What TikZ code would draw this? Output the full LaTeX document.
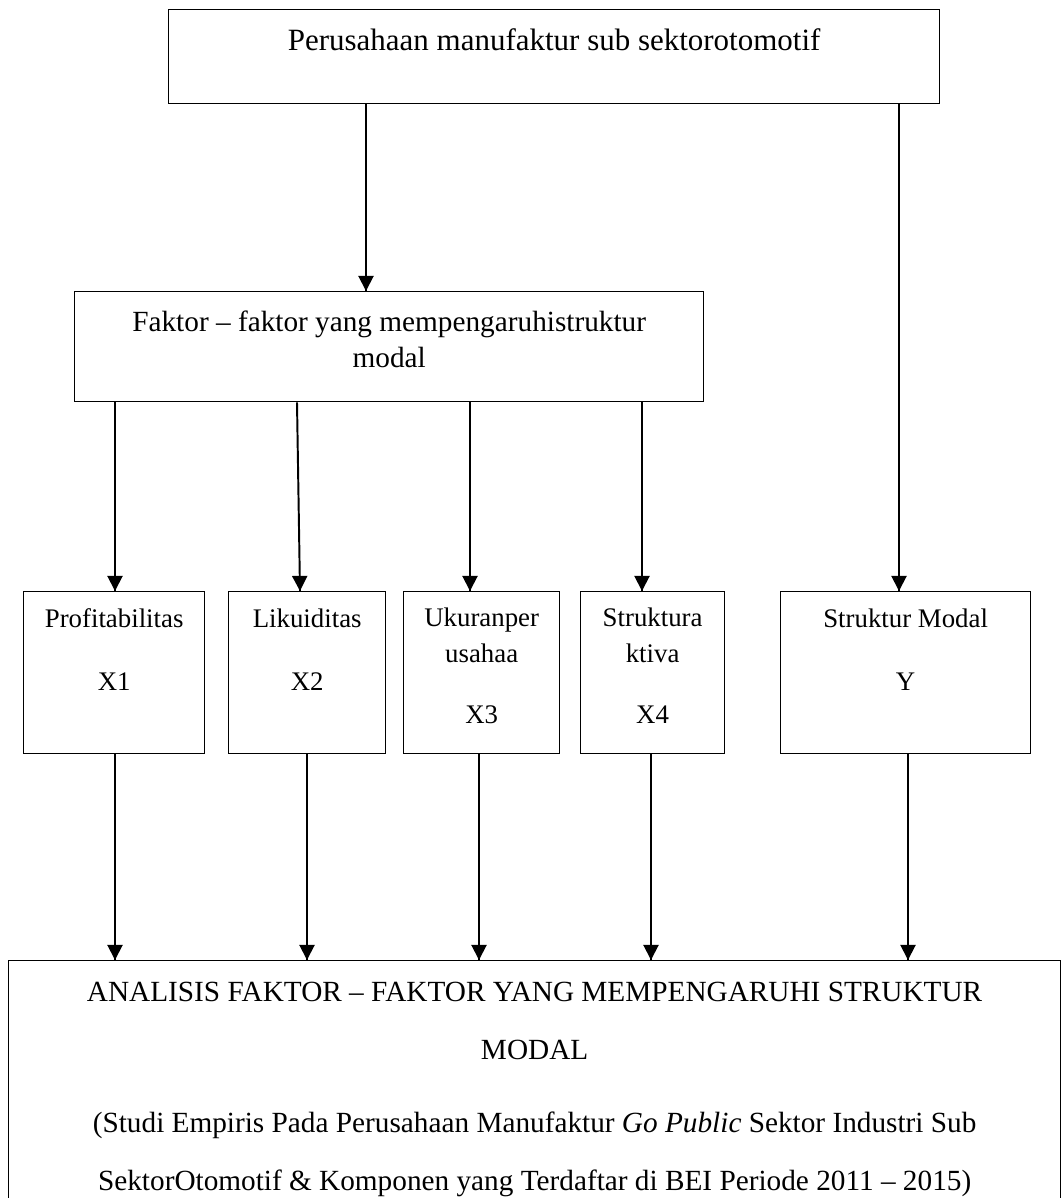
\documentclass[tikz,border=0pt]{standalone}
\usepackage{fontspec}
\setmainfont{Liberation Serif}
\usepackage{tikz}
\usetikzlibrary{calc}
\usetikzlibrary{decorations.markings}
\usetikzlibrary{arrows.meta}
\tikzstyle{bigbox}=[rectangle, draw=black, line width=0.55pt, inner sep=0pt, align=center, anchor=north west, font=\fontsize{12}{15}\selectfont]
\tikzstyle{smallbox}=[rectangle, draw=black, line width=0.55pt, inner sep=0pt, align=center, anchor=north west, font=\fontsize{11}{14.8}\selectfont]
\tikzstyle{arrow} = [line width=0.8pt, decoration={markings,mark=at position 1 with
	{\arrow{Triangle[length=6.2pt,width=6.2pt]}}},postaction={decorate}]

\begin{document}
\begin{tikzpicture}[x=0.41pt, y=-0.41pt]
	\useasboundingbox (0,0) rectangle (1062,1198);
	\clip (0,0) rectangle (1062,1198);
	
	\node(Perusahaan)[bigbox, font=\fontsize{12.7}{15}\selectfont, minimum width=316.1pt, text height=16.8pt, text depth=21.7pt] at (168,9) {Perusahaan manufaktur sub sektorotomotif};
	
	\node(Faktor)[bigbox, minimum width=257.9pt, text height=31.2pt, text depth=13.9pt] at (74,291) {Faktor – faktor yang mempengaruhistruktur\\modal};
	
	
	\node(Profit)[smallbox, minimum width=74.2pt, text height=40.6pt, text depth=25.8pt] at (23,591) {Profitabilitas\\[11pt]X1};
	\node(Likuid)[smallbox, minimum width=64.4pt, text height=40.6pt, text depth=25.8pt] at (228,591) {Likuiditas\\[11pt]X2};
	\node(Ukuran)[smallbox, minimum width=64pt, text height=54.1pt, text depth=12.3pt] at (403,591) {Ukuranper\\usahaa\\[10.2pt]X3};
	\node(Aktiva)[smallbox, minimum width=59pt, text height=54.1pt, text depth=12.3pt] at (580,591) {Struktura\\ktiva\\[10.2pt]X4};
	\node(Modal)[smallbox, minimum width=102.5pt, text height=40.6pt, text depth=25.8pt] at (780,591) {Struktur Modal\\[11pt]Y};
	
	
	\node(Analisis)[bigbox, minimum width=431.3pt, text height=94.3pt, text depth=12.3pt] at (8,960) {ANALISIS FAKTOR – FAKTOR YANG MEMPENGARUHI STRUKTUR\\[8.8pt]MODAL\\[14.9pt](Studi Empiris Pada Perusahaan Manufaktur \textit{Go Public} Sektor Industri Sub\\[8.8pt]SektorOtomotif \& Komponen yang Terdaftar di BEI Periode 2011 – 2015)};
	
	
	\draw [arrow] (Perusahaan.south -| 366,0) -- (Faktor.north -| 366,0);
	\draw [arrow] (Perusahaan.south -| 899,0) -- (Modal.north -| 899,0);
	
	\draw [arrow] (Faktor.south -| 115,0) -- (Profit.north -| 115,0);
	\draw [arrow] (Faktor.south -| 297,0) -- (Likuid.north -| 300,0);
	\draw [arrow] (Faktor.south -| 470,0) -- (Ukuran.north -| 470,0);
	\draw [arrow] (Faktor.south -| 642,0) -- (Aktiva.north -| 642,0);
	
	\draw [arrow] (Profit.south -| 115,0) -- (Analisis.north -| 115,0);
	\draw [arrow] (Likuid.south -| 307,0) -- (Analisis.north -| 307,0);
	\draw [arrow] (Ukuran.south -| 479,0) -- (Analisis.north -| 479,0);
	\draw [arrow] (Aktiva.south -| 651,0) -- (Analisis.north -| 651,0);
	\draw [arrow] (Modal.south -| 908,0) -- (Analisis.north -| 908,0);
\end{tikzpicture}
\end{document}
